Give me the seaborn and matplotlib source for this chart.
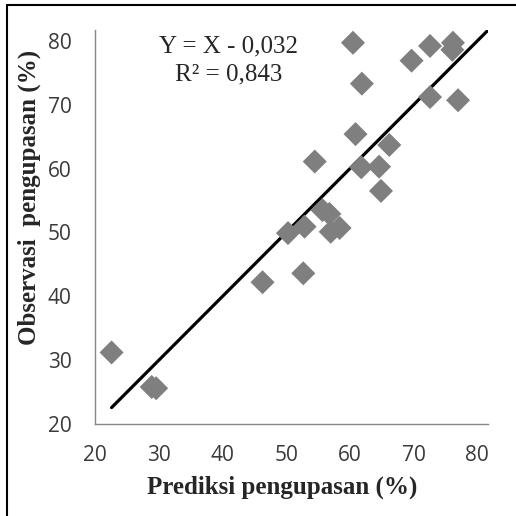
import matplotlib
matplotlib.use("Agg")
import matplotlib.pyplot as plt
from matplotlib.lines import Line2D
import seaborn as sns
import numpy as np
import pandas as pd

# Data
prediksi = [22.6, 28.9, 29.6, 46.3, 52.7, 50.3, 52.9, 54.5, 55.7, 56.8, 57.0, 58.4,
            60.5, 60.9, 61.9, 61.8, 64.6, 64.9, 66.2, 69.7, 72.6, 72.6, 76.2, 76.1, 77.0]
observasi = [31.2, 25.8, 25.6, 42.2, 43.6, 49.9, 50.9, 61.1, 53.5, 52.9, 50.1, 50.7,
             79.7, 65.4, 73.3, 60.2, 60.3, 56.5, 63.7, 76.9, 79.2, 71.2, 79.7, 78.6, 70.7]
slope = 1.0
intercept = -0.032
ticks = [20, 30, 40, 50, 60, 70, 80]
eq_text = "Y = X - 0,032"
r2_text = "R\u00b2 = 0,843"
xlabel = "Prediksi pengupasan (%)"
ylabel = "Observasi  pengupasan (%)"

sns.set_style("white")
df = pd.DataFrame({"pred": prediksi, "obs": observasi})

W = H = 516
fig = plt.figure(figsize=(W / 100, H / 100), dpi=100)
ax = fig.add_axes([95 / W, (H - 424) / H, (488 - 95) / W, (424 - 30) / H])

lim = (20, 81.7)
line_x = np.array([min(prediksi), lim[1]])
line_df = pd.DataFrame({"x": line_x, "y": slope * line_x + intercept})
sns.lineplot(data=line_df, x="x", y="y", color="black", linewidth=2.3, ax=ax, zorder=2)
sns.scatterplot(data=df, x="pred", y="obs", marker="D", s=150, color="#7f7f7f",
                edgecolor="none", ax=ax, zorder=3)

ax.set_xlim(*lim)
ax.set_ylim(*lim)
ax.set_xticks(ticks)
ax.set_yticks(ticks)
ax.set_xticklabels([str(t) for t in ticks], fontfamily="Open Sans", fontsize=15, color="#3a3a3a")
ax.set_yticklabels([str(t) for t in ticks], fontfamily="Open Sans", fontsize=15, color="#3a3a3a")
ax.tick_params(axis="both", direction="out", length=6, width=1, color="#888888")
ax.tick_params(axis="x", pad=9)
ax.tick_params(axis="y", pad=11)
for side in ["top", "right"]:
    ax.spines[side].set_visible(False)
for side in ["left", "bottom"]:
    ax.spines[side].set_color("#888888")
    ax.spines[side].set_linewidth(1)

ax.set_xlabel(xlabel, fontfamily="Liberation Serif", fontweight="bold", fontsize=18)
ax.set_ylabel(ylabel, fontfamily="Liberation Serif", fontweight="bold", fontsize=18)
ax.xaxis.set_label_coords((282 - 95) / 393, (424 - 487) / 394)
ax.yaxis.set_label_coords((29 - 95) / 393, (424 - 197) / 394)
ax.xaxis.label.set_va("center")
ax.yaxis.label.set_va("center")

ax.text(41.0, 79.2, eq_text, fontfamily="Liberation Serif", fontsize=18, ha="center", va="center")
ax.text(41.0, 74.7, r2_text, fontfamily="Liberation Serif", fontsize=18, ha="center", va="center")

# outer frame (top and left)
fig.add_artist(Line2D([7 / W, 1], [1 - 5 / H, 1 - 5 / H], color="black", linewidth=1.5,
                      transform=fig.transFigure))
fig.add_artist(Line2D([7 / W, 7 / W], [0, 1 - 5 / H], color="black", linewidth=1.5,
                      transform=fig.transFigure))

fig.savefig("out.png", dpi=100)
